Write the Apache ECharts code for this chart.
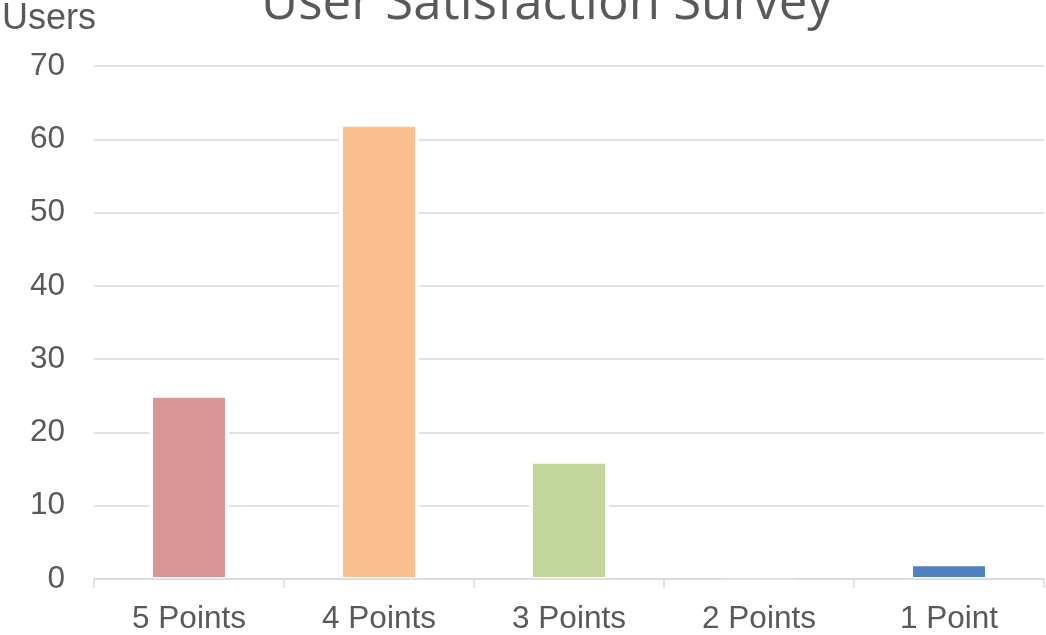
<!DOCTYPE html>
<html>
<head>
<meta charset="utf-8">
<title>User Satisfaction Survey</title>
<script src="https://cdn.jsdelivr.net/npm/echarts@6/dist/echarts.min.js"></script>
<style>
  html, body { margin: 0; padding: 0; background: #fff; }
  #myChart { width: 1046px; height: 635px; }
</style>
</head>
<body>
<div id="myChart"></div>
<script>
// chart data
var categories = ['5 Points', '4 Points', '3 Points', '2 Points', '1 Point']
var users = [25, 62, 16, 0, 2]
var barColors = ['#D99694', '#FAC090', '#C3D69B', '#B3A2C7', '#4F81BD']

var myChart = echarts.init(document.getElementById('myChart'))
var labelFont = {
  fontFamily: 'Liberation Sans',
  fontSize: 31.5,
  color: '#595959'
}
var option = {
  backgroundColor: '#fff',
  animation: false,
  title: [{
    text: 'User Satisfaction Survey',
    left: 542,
    textAlign: 'center',
    top: -26,
    textStyle: {
      fontFamily: 'Open Sans',
      fontSize: 51,
      fontWeight: 'normal',
      color: '#595959'
    }
  }, {
    text: 'Users',
    left: -3,
    top: -4,
    textStyle: {
      fontFamily: 'Liberation Sans',
      fontSize: 36,
      fontWeight: 'normal',
      color: '#595959'
    }
  }],
  grid: {
    left: 94,
    right: 2,
    top: 66,
    bottom: 55
  },
  xAxis: [{
    type: 'category',
    data: categories,
    z: 3,
    axisLine: { lineStyle: { color: '#d9d9d9', width: 1.5 } },
    axisTick: { show: true, length: 9, lineStyle: { color: '#d9d9d9', width: 1.5 } },
    axisLabel: Object.assign({ margin: 24 }, labelFont)
  }, {
    // hidden axis for the white gap behind each bar
    type: 'category',
    data: categories,
    show: false
  }],
  yAxis: {
    type: 'value',
    min: 0,
    max: 70,
    interval: 10,
    axisLine: { show: false },
    axisTick: { show: false },
    axisLabel: Object.assign({ margin: 29, padding: [5, 0, 0, 0] }, labelFont),
    splitLine: { lineStyle: { color: '#d9d9d9', width: 1.5 } }
  },
  series: [{
    type: 'bar',
    xAxisIndex: 1,
    data: users,
    barWidth: 80,
    silent: true,
    itemStyle: { color: '#fff' }
  }, {
    type: 'bar',
    xAxisIndex: 0,
    data: users.map(function(v, i) {
      return { value: v, itemStyle: { color: barColors[i] } }
    }),
    barWidth: 76,
    itemStyle: {
      borderColor: '#fff',
      borderWidth: 2
    }
  }]
}
myChart.setOption(option)
</script>
</body>
</html>
